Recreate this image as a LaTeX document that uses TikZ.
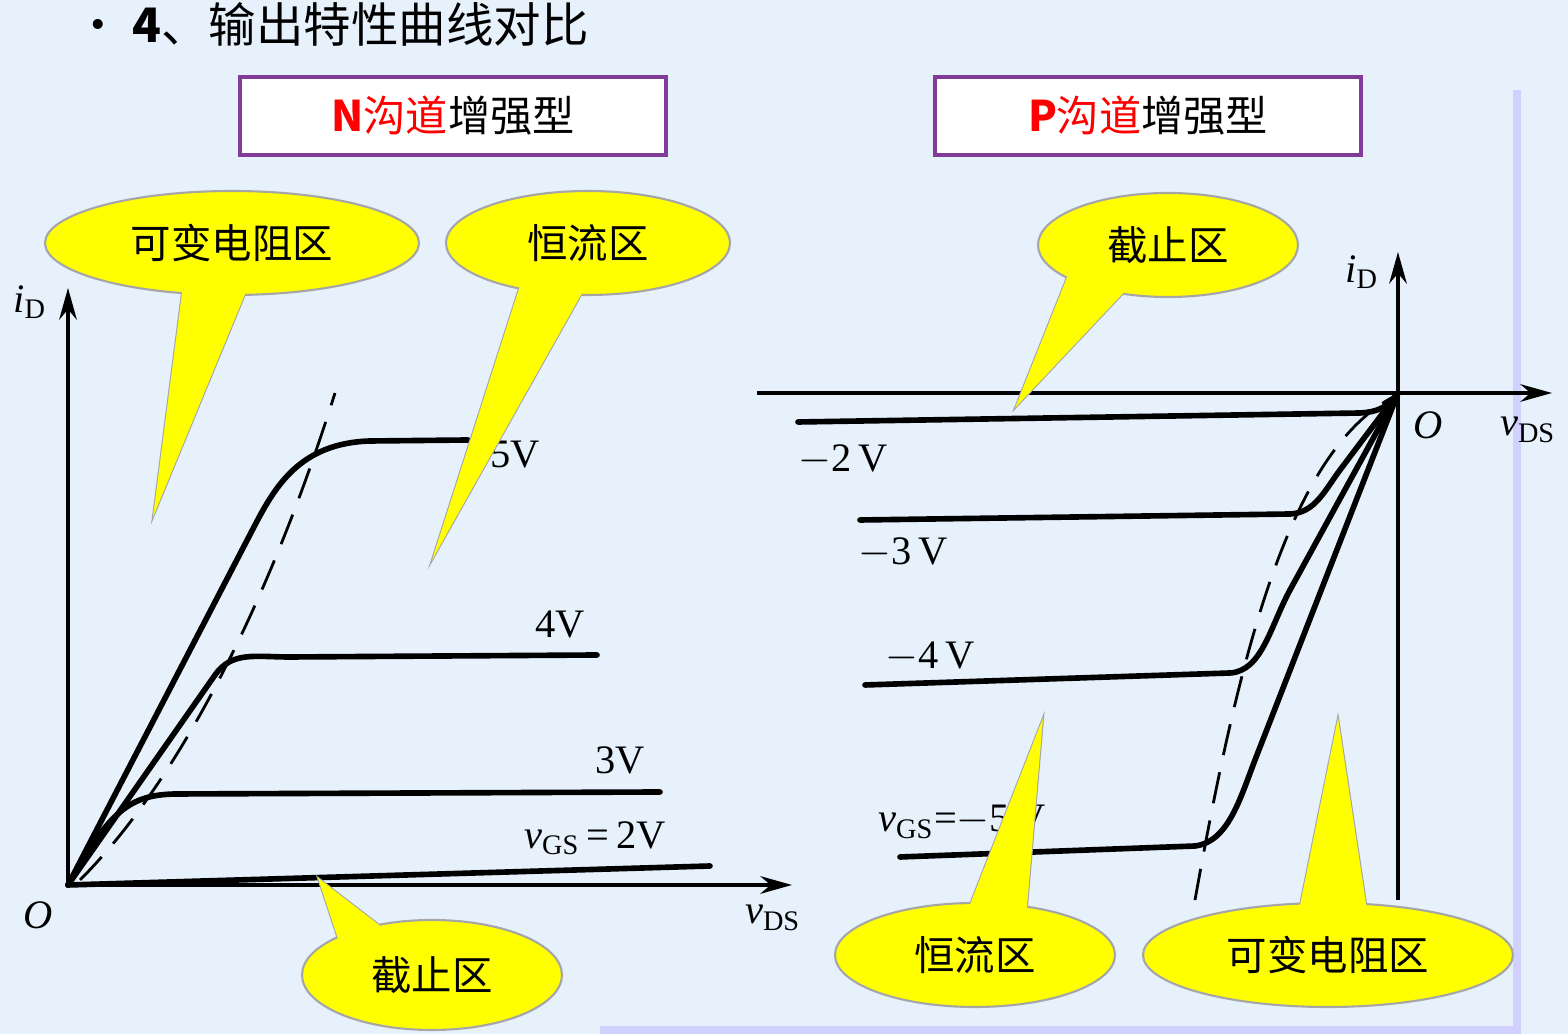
\documentclass[tikz,border=0pt]{standalone}
\usepackage{fontspec}
\usetikzlibrary{arrows.meta}
\setmainfont{Liberation Serif}
\newfontfamily\cjk{Noto Sans CJK SC}
\definecolor{bg}{RGB}{230,241,252}
\definecolor{boxp}{RGB}{128,60,150}
\definecolor{cy}{RGB}{255,255,0}
\begin{document}
\begin{tikzpicture}[x=0.01cm,y=-0.01cm,
  curve/.style={line width=1.6pt,line cap=round,line join=round},
  ax/.style={line width=1.1pt,-{Stealth[length=9pt,width=5pt]}},
  dsh/.style={line width=0.8pt,dash pattern=on 9pt off 5pt},
  hbox/.style={draw=boxp,line width=1.3pt,fill=white,minimum width=426*0.01cm,minimum height=78*0.01cm,font=\cjk\fontsize{12}{14}\selectfont},
  ctext/.style={font=\cjk\fontsize{11.5}{13}\selectfont},
  vlab/.style={font=\fontsize{11.5}{13}\selectfont},
  cl/.style={fill=cy,draw=gray!70,line width=0.6pt}]
\fill[bg] (0,0) rectangle (1568,1034);
\useasboundingbox (0,0) rectangle (1568,1034);
\draw[line width=2pt,blue!18] (1517,90) -- (1517,1030) -- (600,1030);
\node[anchor=west,font=\cjk\fontsize{13.5}{15}\selectfont] (title) at (62,24) {•\ \textbf{4}、输出特性曲线对比};
\node[hbox] (nbox) at (453,116) {\textcolor{red}{\textbf{N}沟道}增强型};
\node[hbox] (pbox) at (1148,116) {\textcolor{red}{\textbf{P}沟道}增强型};
% left plot
\coordinate (o1) at (68,885);
\draw[ax] (o1) -- (68,288);
\draw[ax] (o1) -- (792,885);
\node[vlab] (id1) at (30,302) {\textit{i}\textsubscript{D}};
\node[vlab] (O1) at (38,915) {\textit{O}};
\node[vlab] (vds1) at (773,918) {\textit{v}\textsubscript{DS}};
\draw[curve] (o1) -- (710,866);
\draw[curve] (o1) .. controls (110,810) and (130,795) .. (175,794) -- (660,792);
\draw[curve] (o1) -- (215,675) .. controls (232,651) and (255,657) .. (290,657) -- (597,655);
\draw[curve] (o1) -- (255,525) .. controls (275,487) and (300,443) .. (370,441) -- (468,440);
\draw[dsh] (80,880) .. controls (180,780) and (270,600) .. (335,393);
\node[vlab] (l5) at (515,455) {5V};
\node[vlab] (l4) at (560,625) {4V};
\node[vlab] (l3) at (620,760) {3V};
\node[vlab] (l2) at (595,838) {\textit{v}\textsubscript{GS}\,=\,2V};
% right plot
\coordinate (o2) at (1398,393);
\draw[ax] (1398,900) -- (1398,252);
\draw[ax] (757,393) -- (1552,393);
\node[vlab] (id2) at (1362,272) {\textit{i}\textsubscript{D}};
\node[vlab] (O2) at (1428,425) {\textit{O}};
\node[vlab] (vds2) at (1528,430) {\textit{v}\textsubscript{DS}};
\draw[curve] (798,422) -- (1360,413) .. controls (1380,412) and (1390,405) .. (o2);
\draw[curve] (860,520) -- (1290,514) .. controls (1315,513) and (1325,490) .. (1340,470) -- (o2);
\draw[curve] (865,685) -- (1230,673) .. controls (1262,671) and (1270,627) .. (1290,590) -- (o2);
\draw[curve] (900,857) -- (1195,846) .. controls (1228,842) and (1240,799) .. (1255,760) -- (o2);
\draw[dsh] (1195,900) .. controls (1240,650) and (1290,450) .. (1395,396);
\node[vlab] (r2) at (843,460) {$-$2\,V};
\node[vlab] (r3) at (903,553) {$-$3\,V};
\node[vlab] (r4) at (930,657) {$-$4\,V};
\node[vlab] (r5) at (962,822) {\textit{v}\textsubscript{GS}=$-$5\,V};
% callouts
\newcommand\callout[8]{%
 \draw[cl] (#4) -- (#5) -- (#6) -- cycle;
 \draw[cl] (#1) ellipse [x radius=#2, y radius=#3];
 \fill[cy] (#4) -- (#5) -- (#6) -- cycle;
 \node[ctext] (#8) at (#1) {#7};}
\callout{232,243}{187}{52}{153,517}{185,270}{255,270}{可变电阻区}{c1}
\callout{588,243}{142}{52}{432,560}{525,270}{595,270}{恒流区}{c2}
\callout{432,975}{130}{55}{318,878}{345,960}{405,945}{截止区}{c3}
\callout{1168,245}{130}{52}{1015,408}{1070,270}{1145,270}{截止区}{c4}
\callout{975,955}{140}{52}{1043,718}{960,930}{1025,930}{恒流区}{c5}
\callout{1328,955}{185}{52}{1338,718}{1295,930}{1370,930}{可变电阻区}{c6}
\end{tikzpicture}
\end{document}
